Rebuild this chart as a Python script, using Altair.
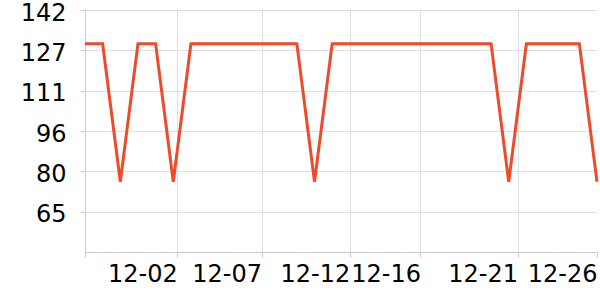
import altair as alt
import pandas as pd

dates = [
    "2023-11-27", "2023-11-28", "2023-11-29", "2023-11-30", "2023-12-01",
    "2023-12-02", "2023-12-03", "2023-12-04", "2023-12-05", "2023-12-06",
    "2023-12-07", "2023-12-08", "2023-12-09", "2023-12-10", "2023-12-11",
    "2023-12-12", "2023-12-13", "2023-12-14", "2023-12-15", "2023-12-16",
    "2023-12-17", "2023-12-18", "2023-12-19", "2023-12-20", "2023-12-21",
    "2023-12-22", "2023-12-23", "2023-12-24", "2023-12-25", "2023-12-26",
]
values = [
    129, 129, 76, 129, 129, 76, 129, 129, 129, 129,
    129, 129, 129, 76, 129, 129, 129, 129, 129, 129,
    129, 129, 129, 129, 76, 129, 129, 129, 129, 76,
]
# x tick positions (month, day, hour, minute) as they sit on the reference axis
x_ticks = [(11, 27, 0, 0), (12, 2, 5, 30), (12, 7, 0, 0), (12, 12, 0, 0),
           (12, 16, 0, 0), (12, 21, 12, 0), (12, 26, 0, 0)]
y_ticks = [64.5, 80, 95.5, 111, 126.5, 142]
y_domain = [49, 142]

df = pd.DataFrame({"date": pd.to_datetime(dates), "value": values})

tick_vals = [alt.DateTime(year=2023, month=m, date=d, hours=h, minutes=mi)
             for (m, d, h, mi) in x_ticks]

font = "DejaVu Sans"
grid_c = "#e0e0e0"
axis_c = "#cccccc"

chart = alt.Chart(df).mark_line(color="#ee4b2b", strokeWidth=3, strokeJoin="miter").encode(
    x=alt.X(
        "date:T",
        title=None,
        scale=alt.Scale(domain=[alt.DateTime(year=2023, month=11, date=27),
                                alt.DateTime(year=2023, month=12, date=26)],
                        nice=False, padding=0),
        axis=alt.Axis(
            values=tick_vals,
            format="%m-%d",
            labelExpr="datum.index == 0 ? '' : datum.label",
            labelAlign="right",
            labelBaseline="top",
            labelPadding=5,
            labelFont=font,
            labelFontSize=24,
            labelColor="#000000",
            labelOverlap=False,
            labelFlush=False,
            tickSize=5,
            tickColor=axis_c,
            domainColor=axis_c,
            gridColor=grid_c,
            gridOpacity={"condition": {"test": "datum.index == 1", "value": 0}, "value": 1},
            grid=True,
        ),
    ),
    y=alt.Y(
        "value:Q",
        title=None,
        scale=alt.Scale(domain=y_domain, nice=False, zero=False),
        axis=alt.Axis(
            values=y_ticks,
            format=".0f",
            labelFont=font,
            labelFontSize=24,
            labelColor="#000000",
            labelPadding=14,
            labelOffset=3,
            labelOverlap=False,
            labelFlush=False,
            tickSize=5,
            tickColor=axis_c,
            domainColor=axis_c,
            gridColor=grid_c,
            grid=True,
        ),
    ),
).properties(
    width=512,
    height=242,
    autosize=alt.AutoSizeParams(type="none"),
    padding={"left": 85, "top": 10, "right": 3, "bottom": 48},
).configure_view(stroke=None)

chart.save("out.html", embed_options={"renderer": "svg", "actions": False})
